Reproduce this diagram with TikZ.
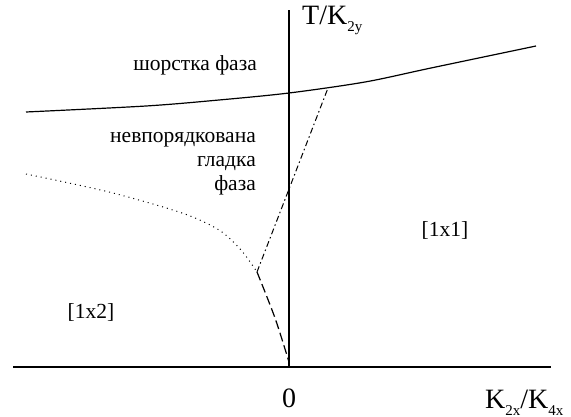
\documentclass[tikz,border=0pt]{standalone}
\usepackage{fontspec}
\setmainfont{Liberation Serif}
\usetikzlibrary{positioning,calc}
\newcommand{\lo}[1]{\raisebox{-7pt}{\fontsize{15}{15}\selectfont #1}}

\begin{document}
\begin{tikzpicture}[x=1pt,y=-1pt,font=\fontsize{21.5}{24}\selectfont,
  ax/.style={line width=1.2pt},
  bnd/.style={line width=1.2pt},
  ddot/.style={line width=1pt,dash pattern=on 6pt off 3pt on 1.5pt off 3pt},
  dotl/.style={line width=1pt,dash pattern=on 1pt off 4pt},
  dsh/.style={line width=1.2pt,dash pattern=on 9pt off 4pt},
  lab/.style={inner sep=0pt},
  axlab/.style={inner sep=0pt,font=\fontsize{28}{30}\selectfont}]
\useasboundingbox (0,0) rectangle (571,417);
% axes
\coordinate (o) at (289,367);
\coordinate (top) at (289,10);
\coordinate (xl) at (13,367);
\coordinate (xr) at (551,367);
\draw[ax] (xl) -- (xr);
\draw[ax] (o) -- (top);
\node[axlab,anchor=base west] (ylab) at (302,25) {T/K\lo{2y}};
\node[axlab,anchor=base] (zero) at (289,407) {0};
\node[axlab,anchor=base west] (xlab) at (485,408) {K\lo{2x}/K\lo{4x}};
% phase boundaries
\coordinate (tp) at (257,272);
\coordinate (up) at (328,88);
\draw[bnd] plot[smooth] coordinates {(26,112) (146,106) (219,100) (289,93) (365,82) (431,68) (536,46)};
\draw[ddot] (tp) -- (up);
\draw[dotl] plot[smooth] coordinates {(26,174) (109,192) (182,213) (219,230) (241,250) (tp)};
\draw[dsh] plot[smooth] coordinates {(tp) (275,318) (289,362)};
% phases
\node[lab,anchor=east] (rough) at (257,65) {шорстка фаза};
\node[lab,anchor=east,align=right] (smooth) at (256,164) {невпорядкована\\гладка\\фаза};
\node[lab] (p11) at (445,230) {[1x1]};
\node[lab] (p12) at (91,312) {[1x2]};
\end{tikzpicture}
\end{document}
